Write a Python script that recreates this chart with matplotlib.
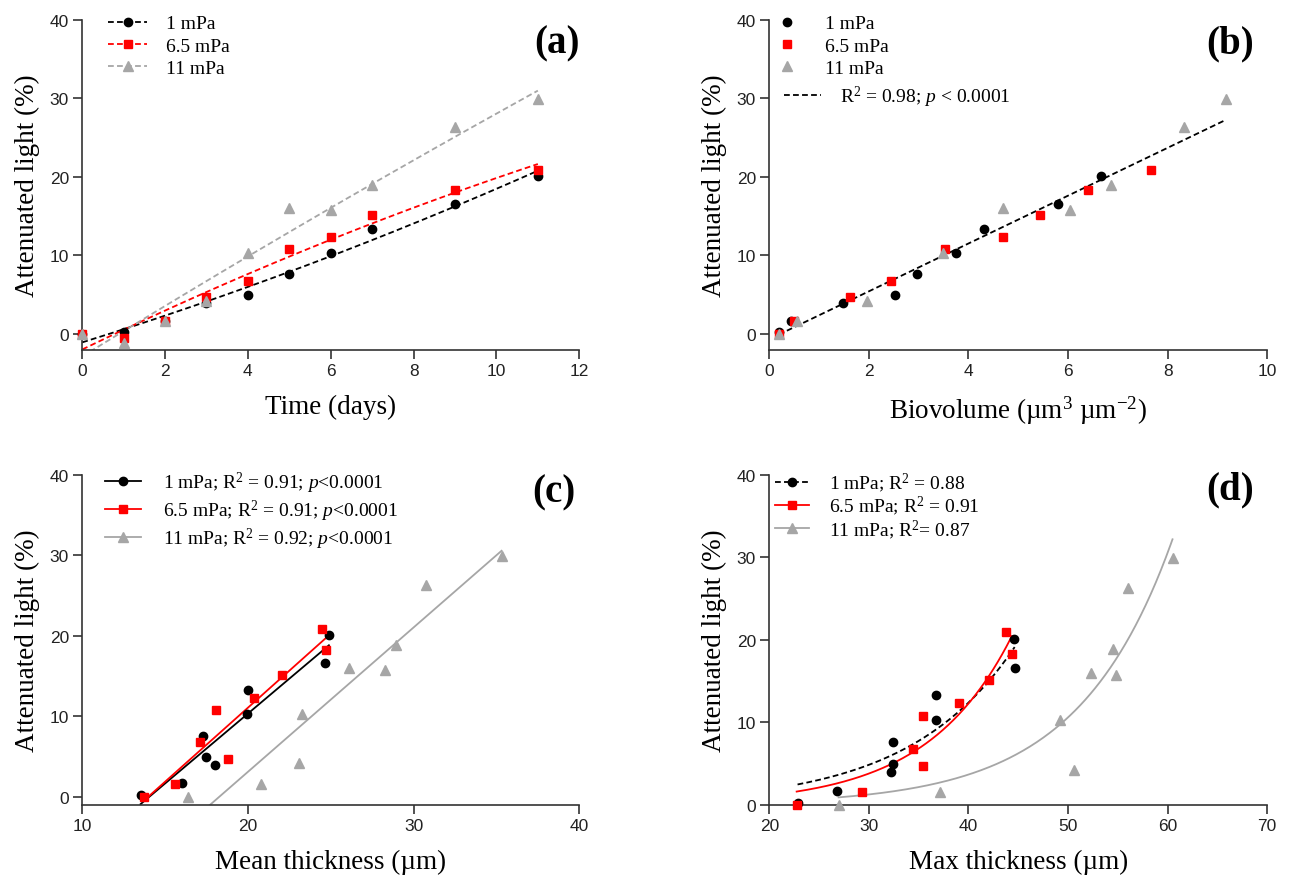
import numpy as np
import matplotlib
matplotlib.use('Agg')
import matplotlib.pyplot as plt
from matplotlib.lines import Line2D

plt.rcParams['font.family'] = 'Liberation Serif'
plt.rcParams['mathtext.fontset'] = 'custom'
plt.rcParams['mathtext.rm'] = 'Liberation Serif'
plt.rcParams['mathtext.it'] = 'Liberation Serif:italic'

# (a) attenuated light over time
days = [0, 1, 2, 3, 4, 5, 6, 7, 9, 11]
light_1 = [0, 0.2, 1.7, 4.0, 5.0, 7.6, 10.3, 13.3, 16.6, 20.1]
light_65 = [0, -0.5, 1.6, 4.7, 6.8, 10.8, 12.3, 15.2, 18.3, 20.9]
light_11 = [0, -1.1, 1.6, 4.2, 10.3, 16.0, 15.8, 18.9, 26.3, 29.9]

# attenuated light for days 1-11, used in (b), (c), (d)
att_1 = [0.2, 1.7, 4.0, 5.0, 7.6, 10.3, 13.3, 16.6, 20.1]
att_65 = [0.0, 1.6, 4.7, 6.8, 10.8, 12.3, 15.2, 18.3, 20.9]
att_11 = [0.0, 1.6, 4.2, 10.3, 16.0, 15.8, 18.9, 26.3, 29.9]

# (b) biovolume
biovol_1 = [0.20, 0.43, 1.48, 2.53, 2.96, 3.75, 4.32, 5.80, 6.67]
biovol_65 = [0.19, 0.49, 1.62, 2.44, 3.53, 4.70, 5.44, 6.40, 7.66]
biovol_11 = [0.20, 0.55, 1.96, 3.49, 4.70, 6.03, 6.87, 8.33, 9.17]

# (c) mean thickness
mean_1 = [13.52, 16.01, 17.99, 17.44, 17.27, 19.96, 19.98, 24.67, 24.89]
mean_65 = [13.75, 15.57, 18.82, 17.12, 18.08, 20.38, 22.08, 24.74, 24.49]
mean_11 = [16.41, 20.77, 23.09, 23.29, 26.12, 28.26, 28.95, 30.75, 35.31]

# (d) max thickness
max_1 = [22.84, 26.84, 32.22, 32.39, 32.39, 36.72, 36.72, 44.64, 44.60]
max_65 = [22.75, 29.34, 35.47, 34.39, 35.47, 39.06, 42.10, 44.35, 43.77]
max_11 = [26.96, 37.14, 50.61, 49.23, 52.28, 54.86, 54.53, 55.99, 60.49]

# exponential fits in (d): y = a * exp(k * x)
exp_a = [0.2945, 0.114, 0.0538]
exp_k = [0.0935, 0.117, 0.1057]

names = ['1 mPa', '6.5 mPa', '11 mPa']
colors = ['black', '#FF0000', '#A6A6A6']
markers = ['o', 's', '^']
msizes = [6, 6.3, 6.5]
DASH = (3.2, 1.8)

fig = plt.figure(figsize=(12.89, 8.79), dpi=100)
ax_a = fig.add_axes([0.0638, 0.6010, 0.3856, 0.3755])
ax_b = fig.add_axes([0.5968, 0.6010, 0.3863, 0.3755])
ax_c = fig.add_axes([0.0638, 0.0830, 0.3856, 0.3758])
ax_d = fig.add_axes([0.5968, 0.0830, 0.3863, 0.3758])


def style(ax, xlim, xticks, ylim, xlabel, tag, tagpos):
    for s in ['top', 'right']:
        ax.spines[s].set_visible(False)
    for s in ['left', 'bottom']:
        ax.spines[s].set_linewidth(1.2)
        ax.spines[s].set_color('#333333')
    ax.set_xlim(*xlim)
    ax.set_ylim(*ylim)
    ax.set_xticks(xticks)
    ax.set_yticks([0, 10, 20, 30, 40])
    ax.tick_params(direction='out', length=6.5, width=1.2, color='#333333',
                   labelsize=12.5, pad=3, labelcolor='#222222')
    for lbl in ax.get_xticklabels() + ax.get_yticklabels():
        lbl.set_fontfamily('Liberation Sans')
    ax.set_xlabel(xlabel, fontsize=19.5, labelpad=11.5)
    ax.set_ylabel('Attenuated light (%)', fontsize=19.5, labelpad=7)
    ax.text(tagpos[0], tagpos[1], tag, transform=ax.transAxes, fontsize=28,
            fontweight='bold', ha='center', va='center')


def points(ax, xs, ys):
    for x, y, c, m, ms in zip(xs, ys, colors, markers, msizes):
        ax.plot(x, y, linestyle='none', marker=m, color=c, markersize=ms,
                clip_on=False, zorder=3)


# (a)
ys_a = [light_1, light_65, light_11]
for y, c in zip(ys_a, colors):
    coef = np.polyfit(days, y, 2)
    xx = np.linspace(min(days), max(days), 200)
    ax_a.plot(xx, np.polyval(coef, xx), color=c, lw=1.3, dashes=DASH)
points(ax_a, [days] * 3, ys_a)
handles = [Line2D([], [], color=c, marker=m, markersize=ms, lw=1.3, dashes=DASH)
           for c, m, ms in zip(colors, markers, msizes)]
ax_a.legend(handles, names, loc='upper left', bbox_to_anchor=(0.052, 1.015),
            frameon=False, fontsize=14, handlelength=2.0, handletextpad=1.0,
            labelspacing=0.25, borderpad=0, borderaxespad=0)
style(ax_a, (0, 12), range(0, 13, 2), (-2, 40), 'Time (days)', '(a)', (0.956, 0.931))

# (b)
xs_b = [biovol_1, biovol_65, biovol_11]
ys_b = [att_1, att_65, att_11]
all_x = np.concatenate(xs_b)
all_y = np.concatenate(ys_b)
coef = np.polyfit(all_x, all_y, 1)
xx = np.linspace(all_x.min(), all_x.max(), 100)
ax_b.plot(xx, np.polyval(coef, xx), color='black', lw=1.3, dashes=DASH)
points(ax_b, xs_b, ys_b)
handles = [Line2D([], [], color=c, marker=m, markersize=ms, linestyle='none')
           for c, m, ms in zip(colors, markers, msizes)]
leg1 = ax_b.legend(handles, names, loc='upper left', bbox_to_anchor=(0.0155, 1.015),
                   frameon=False, fontsize=14, handlelength=1.0, handletextpad=1.45,
                   labelspacing=0.25, borderpad=0, borderaxespad=0)
ax_b.add_artist(leg1)
ax_b.legend([Line2D([], [], color='black', lw=1.3, dashes=DASH)],
            [r'R$^2$ = 0.98; $p$ < 0.0001'], loc='upper left',
            bbox_to_anchor=(0.0295, 0.806), frameon=False, fontsize=14,
            handlelength=1.9, handletextpad=1.0, borderpad=0, borderaxespad=0)
style(ax_b, (0, 10), range(0, 11, 2), (-2, 40),
      r'Biovolume (µm$^3$ µm$^{-2}$)', '(b)', (0.926, 0.931))

# (c)
xs_c = [mean_1, mean_65, mean_11]
for x, y, c in zip(xs_c, ys_b, colors):
    coef = np.polyfit(x, y, 1)
    xx = np.linspace(min(x), max(x), 100)
    ax_c.plot(xx, np.polyval(coef, xx), color=c, lw=1.3)
points(ax_c, xs_c, ys_b)
labels_c = [r'1 mPa; R$^2$ = 0.91; $p$<0.0001',
            r'6.5 mPa; R$^2$ = 0.91; $p$<0.0001',
            r'11 mPa; R$^2$ = 0.92; $p$<0.0001']
handles = [Line2D([], [], color=c, marker=m, markersize=ms, lw=1.3)
           for c, m, ms in zip(colors, markers, msizes)]
ax_c.legend(handles, labels_c, loc='upper left', bbox_to_anchor=(0.0457, 1.015),
            frameon=False, fontsize=14, handlelength=1.83, handletextpad=1.13,
            labelspacing=0.15, borderpad=0, borderaxespad=0)
style(ax_c, (10, 40), range(10, 41, 10), (-1, 40), 'Mean thickness (µm)', '(c)',
      (0.949, 0.9475))

# (d)
xs_d = [max_1, max_65, max_11]
styles_d = [dict(dashes=DASH), dict(linestyle='-'), dict(linestyle='-')]
for x, a, k, c, st in zip(xs_d, exp_a, exp_k, colors, styles_d):
    xx = np.linspace(min(x), max(x), 200)
    ax_d.plot(xx, a * np.exp(k * xx), color=c, lw=1.3, **st)
points(ax_d, xs_d, ys_b)
labels_d = [r'1 mPa; R$^2$ = 0.88', r'6.5 mPa; R$^2$ = 0.91', r'11 mPa; R$^2$= 0.87']
handles = [Line2D([], [], color=c, marker=m, markersize=ms, lw=1.3, **st)
           for c, m, ms, st in zip(colors, markers, msizes, styles_d)]
ax_d.legend(handles, labels_d, loc='upper left', bbox_to_anchor=(0.011, 1.012),
            frameon=False, fontsize=14, handlelength=1.78, handletextpad=1.0,
            labelspacing=0.0, borderpad=0, borderaxespad=0)
style(ax_d, (20, 70), range(20, 71, 10), (0, 40), 'Max thickness (µm)', '(d)',
      (0.926, 0.957))

fig.savefig('out.png', dpi=100)
